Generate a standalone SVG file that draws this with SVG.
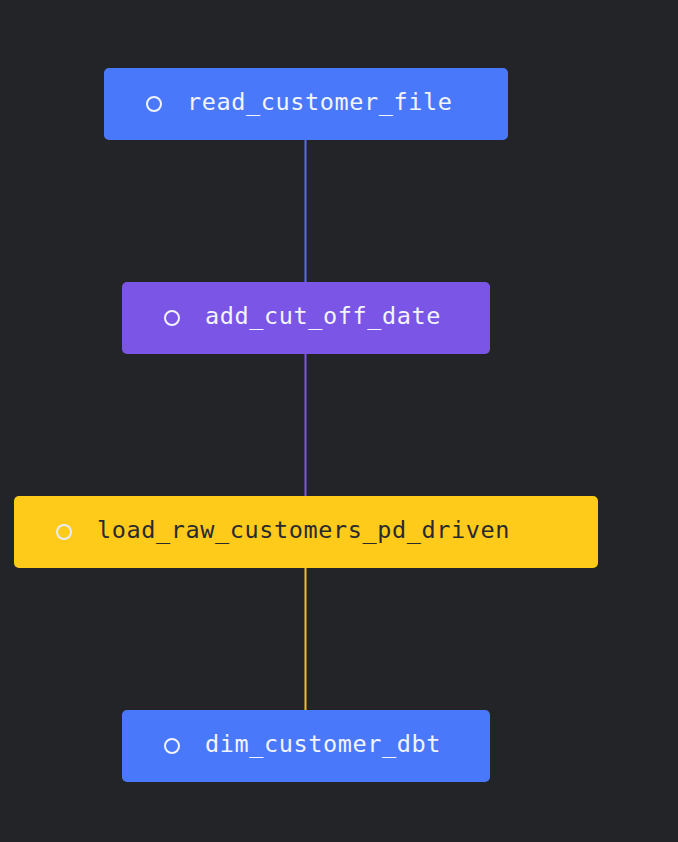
<svg xmlns="http://www.w3.org/2000/svg" width="678" height="842" viewBox="0 0 678 842">
<style>
.bg{fill:#232428}
.node rect{stroke:none}
.blue{fill:#4a78fb}
.purple{fill:#7b55e6}
.yellow{fill:#fecb1b}
.lbl{font-family:"DejaVu Sans Mono","Liberation Mono",monospace;font-size:23.5px;letter-spacing:0.6px;fill:#f2f4fb}
.dark{fill:#2a2a2e}
.dot{fill:none;stroke:#f2f4fb;stroke-width:2}
.dotl{fill:none;stroke:#e6ecf8;stroke-width:2}
.edge{stroke-width:2;fill:none}
</style>
<rect class="bg" x="0" y="0" width="678" height="842"/>
<g id="connectors">
<line class="edge" x1="305.5" y1="140" x2="305.5" y2="282" stroke="#5a68f4"/>
<line class="edge" x1="305.5" y1="354" x2="305.5" y2="496" stroke="#7b55e6"/>
<line class="edge" x1="305.5" y1="568" x2="305.5" y2="710" stroke="#f0c020"/>
</g>
<g id="read_customer_file" class="node">
<rect class="blue" x="104" y="68" width="404" height="72" rx="5"/>
<circle class="dot" cx="154" cy="104" r="7"/>
<text class="lbl" x="187" y="110">read_customer_file</text>
</g>
<g id="add_cut_off_date" class="node">
<rect class="purple" x="122" y="282" width="368" height="72" rx="5"/>
<circle class="dot" cx="172" cy="318" r="7"/>
<text class="lbl" x="205" y="324">add_cut_off_date</text>
</g>
<g id="load_raw_customers_pd_driven" class="node">
<rect class="yellow" x="14" y="496" width="584" height="72" rx="5"/>
<circle class="dotl" cx="64" cy="532" r="7"/>
<text class="lbl dark" x="97" y="538">load_raw_customers_pd_driven</text>
</g>
<g id="dim_customer_dbt" class="node">
<rect class="blue" x="122" y="710" width="368" height="72" rx="5"/>
<circle class="dot" cx="172" cy="746" r="7"/>
<text class="lbl" x="205" y="752">dim_customer_dbt</text>
</g>
</svg>
